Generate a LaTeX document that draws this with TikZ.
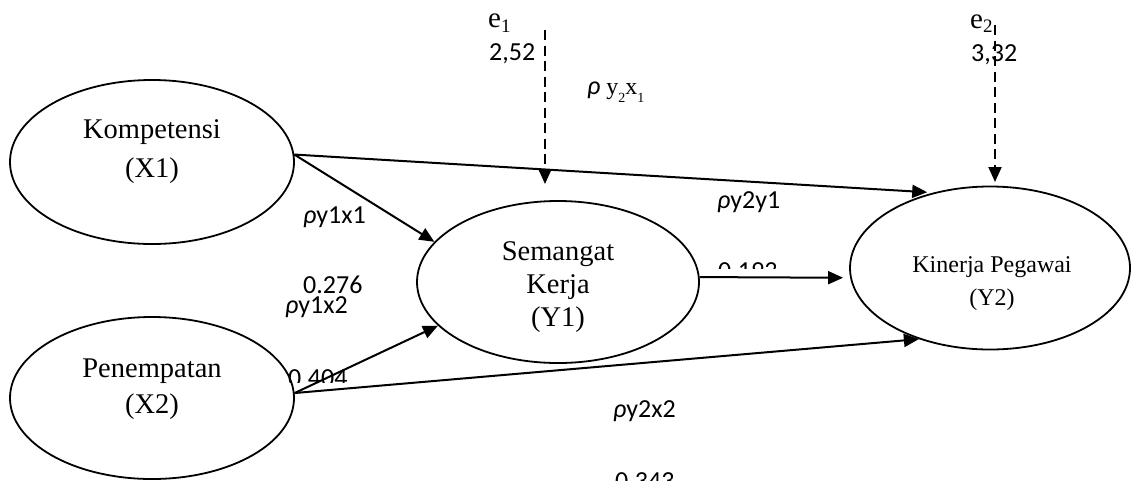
\documentclass[tikz,border=0pt]{standalone}
\usepackage{fontspec}
\setmainfont{Liberation Serif}
\newfontfamily\calfont{Carlito}
\usetikzlibrary{arrows.meta,shapes.geometric}
\begin{document}
\begin{tikzpicture}[x=1pt,y=-1pt,
  var/.style={draw,ellipse,line width=1.8pt,inner sep=0pt},
  conn/.style={line width=2pt,-{Triangle[length=15pt,width=13pt]}},
  err/.style={conn,dash pattern=on 10pt off 5.5pt},
  big/.style={font=\fontsize{28.5}{28}\selectfont,anchor=base,inner sep=0pt},
  mid/.style={font=\fontsize{24}{24}\selectfont,anchor=base,inner sep=0pt},
  coef/.style={font=\calfont\fontsize{26}{26}\selectfont,anchor=base west,inner sep=0pt},
  num/.style={font=\calfont\fontsize{26}{26}\selectfont,anchor=base west,inner sep=0pt},
  errlab/.style={font=\fontsize{29}{29}\selectfont,anchor=base west,inner sep=0pt},
]
\useasboundingbox (0,0) rectangle (1131,480);
\fill[white] (0,0) rectangle (1131,480);

% latent variables
\node[var,minimum width=284pt,minimum height=164pt] (X1) at (152,162) {};
\node[var,minimum width=284pt,minimum height=162pt] (X2) at (152,398) {};
\node[var,minimum width=282pt,minimum height=162pt] (Y1) at (558,282) {};
\node[var,minimum width=280pt,minimum height=163pt] (Y2) at (990,268) {};

\node[big] (X1a) at (152,138) {Kompetensi};
\node[big] (X1b) at (152,177) {(X1)};
\node[big] (X2a) at (152,377) {Penempatan};
\node[big] (X2b) at (152,413) {(X2)};
\node[big] (Y1a) at (558,260) {Semangat};
\node[big] (Y1b) at (558,293) {Kerja};
\node[big] (Y1c) at (558,326) {(Y1)};
\node[mid] (Y2a) at (992,272) {Kinerja Pegawai};
\node[mid] (Y2b) at (992,305) {(Y2)};

% paths
\draw[conn] (X1.3) -- (Y1.162);
\draw[conn,shorten >=6pt] (X1.3) -- (Y2.127);
\draw[conn] (X2.2) -- (Y1.200);
\draw[conn] (X2.2) -- (Y2.225);
\draw[conn,shorten >=7pt] (Y1.2) -- (Y2.184);

% error terms
\coordinate (e1s) at (545,30);
\coordinate (e1t) at (545,184);
\coordinate (e2s) at (995,25);
\coordinate (e2t) at (995,182);
\draw[err] (e1s) -- (e1t);
\draw[err] (e2s) -- (e2t);

\node[errlab] (e1) at (488,27) {e\raisebox{-5pt}{\fontsize{19}{19}\selectfont 1}};
\node[num] (v1) at (489,60) {2,52};
\node[errlab] (e2) at (970,28) {e\raisebox{-4pt}{\fontsize{19}{19}\selectfont 2}};
\node[num] (v2) at (971,61) {3,32};

% coefficient labels
\node[coef] (p21) at (587,94) {\itshape ρ\ \upshape\rmfamily\fontsize{24}{24}\selectfont y\raisebox{-8pt}{\fontsize{14}{14}\selectfont 2}x\raisebox{-8pt}{\fontsize{14}{14}\selectfont 1}};
\node[coef] (p11) at (303,223) {\itshape ρ\upshape y1x1};
\node[coef] (c11) at (303,293) {0.276};
\node[coef] (p12) at (285,313) {\itshape ρ\upshape y1x2};
\node[coef] (pyy) at (717,208) {\itshape ρ\upshape y2y1};
\node[coef] (p22) at (613,417) {\itshape ρ\upshape y2x2};

\begin{scope}
\clip (280,355) rectangle (380,382);
\node[coef] (c12) at (288,386) {0.404};
\end{scope}
\begin{scope}
\clip (700,250) rectangle (800,268);
\node[coef] (cyy) at (718,279) {0.193};
\end{scope}
\begin{scope}
\clip (600,460) rectangle (700,480);
\node[coef] (c22) at (615,489) {0.343};
\end{scope}
\end{tikzpicture}
\end{document}
